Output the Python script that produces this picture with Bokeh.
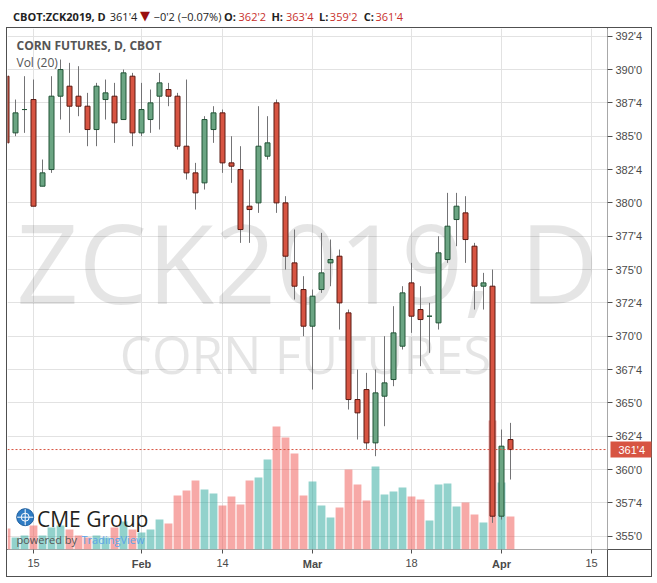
import numpy as np
import pandas as pd
from bokeh.plotting import figure
from bokeh.layouts import column
from bokeh.models import (Range1d, FixedTicker, CustomJSTickFormatter, Label, Span,
                          ColumnDataSource, LinearAxis)
from bokeh.core.properties import value
from bokeh.embed import file_html
from bokeh.resources import INLINE

# ---------------- data (CBOT:ZCK2019, daily) ----------------
SYMBOL = "CBOT:ZCK2019, D"
WATERMARK = "ZCK2019, D"
WATERMARK2 = "CORN FUTURES"
LEGEND = "CORN FUTURES, D, CBOT"
HOLIDAYS = ["2019-01-21", "2019-02-18"]
FIRST_DAY, LAST_DAY = "2019-01-10", "2019-04-02"

opens = [389.5, 385.25, 387.0, 387.75, 381.25, 382.5, 388.0, 388.75, 388.0, 387.25,
         385.5, 387.75, 388.0, 386.25, 389.5, 385.25, 386.25, 388.0, 388.5, 388.0,
         384.25, 382.25, 381.5, 385.5, 386.75, 383.0, 382.5, 379.75, 380.0, 383.5,
         387.5, 380.0, 375.5, 373.5, 370.75, 373.5, 375.5, 376.0, 371.75, 365.25,
         366.0, 362.0, 365.5, 366.75, 369.25, 374.0, 372.0, 371.5, 371.0, 375.75,
         378.75, 379.25, 376.75, 373.75, 373.75, 356.5, 362.25]
highs = [390.0, 387.75, 389.5, 389.25, 383.25, 389.5, 390.75, 390.5, 390.25, 388.25,
         389.0, 389.25, 389.0, 390.0, 389.75, 389.0, 388.5, 389.75, 389.0, 388.25,
         389.25, 383.0, 386.5, 387.25, 387.0, 385.0, 384.25, 381.75, 387.25, 386.5,
         387.75, 380.5, 378.0, 374.5, 373.5, 377.75, 377.25, 376.5, 372.0, 367.5,
         367.25, 367.5, 370.0, 372.25, 373.75, 375.5, 373.75, 372.5, 377.5, 380.75,
         380.75, 380.5, 377.0, 374.75, 375.0, 363.0, 363.5]
lows = [384.0, 385.0, 385.25, 379.75, 381.25, 382.25, 386.25, 385.25, 386.5, 384.25,
        384.25, 386.25, 384.5, 386.25, 384.25, 385.0, 385.25, 385.5, 387.25, 384.0,
        381.75, 379.5, 381.0, 384.5, 382.25, 381.5, 377.0, 377.0, 379.25, 383.25,
        379.25, 375.0, 372.75, 370.0, 366.0, 373.25, 373.75, 370.5, 364.5, 362.25,
        361.5, 361.0, 363.25, 366.25, 369.0, 370.25, 367.75, 368.75, 370.5, 375.5,
        376.75, 375.5, 372.0, 372.0, 356.0, 356.25, 359.25]
closes = [384.5, 386.75, 387.0, 379.75, 382.25, 388.0, 390.0, 387.25, 387.25, 385.5,
          388.75, 388.25, 386.0, 389.75, 385.25, 387.0, 387.5, 389.0, 388.0, 384.25,
          382.25, 380.75, 386.25, 386.75, 383.0, 382.75, 378.0, 379.5, 384.25, 384.5,
          380.0, 376.0, 373.75, 370.75, 373.0, 374.75, 375.75, 372.5, 365.25, 364.25,
          362.0, 365.75, 366.5, 370.25, 373.25, 371.5, 371.25, 371.5, 376.25, 378.25,
          379.75, 377.25, 373.75, 374.0, 356.5, 361.75, 361.5]
# volume, thousands of contracts
volume_k = [42, 24, 28, 48, 28, 44, 48, 40, 28, 24,
            28, 24, 44, 56, 40, 34, 40, 60, 52, 108,
            118, 138, 120, 112, 88, 106, 90, 138, 144, 180,
            246, 224, 192, 108, 136, 88, 64, 84, 160, 130,
            98, 166, 110, 116, 124, 106, 100, 58, 130, 132,
            86, 94, 70, 54, 258, 134, 66]

price_ticks = [355.0, 357.5, 360.0, 362.5, 365.0, 367.5, 370.0, 372.5,
               375.0, 377.5, 380.0, 382.5, 385.0, 387.5, 390.0, 392.5]
price_tick_labels = ["355'0", "357'4", "360'0", "362'4", "365'0", "367'4", "370'0", "372'4",
                     "375'0", "377'4", "380'0", "382'4", "385'0", "387'4", "390'0", "392'4"]
date_ticks = ["2019-01-15", "2019-02-01", "2019-02-14", "2019-03-01",
              "2019-03-18", "2019-04-01", "2019-04-15"]
date_tick_labels = ["15", "Feb", "14", "Mar", "18", "Apr", "15"]

# ---------------- derived ----------------
dates = pd.bdate_range(FIRST_DAY, LAST_DAY, freq="C", holidays=HOLIDAYS)
n = len(dates)
xs = list(range(n))
tick_pos = [int(v) for v in np.busday_count(FIRST_DAY, date_ticks, holidays=HOLIDAYS)]
day_texts = [t if t.isdigit() else "" for t in date_tick_labels]
month_pos = [x for x, t in zip(tick_pos, date_tick_labels) if not t.isdigit()]
month_texts = [t for t in date_tick_labels if not t.isdigit()]


def eighths(p):
    w = int(np.floor(p + 1e-9))
    f = int(round((p - w) * 8))
    return f"{w}'{f}"


# ---------------- geometry (page pixels) ----------------
W, H, HEAD = 657, 583, 27
FL, FT, FR, FB = 7, 28, 607, 549      # plot frame edges
BAR_PX = 9.0                          # pixels per trading day
BAR0_PX = 6.0                         # centre of first bar
REF_PRICE, REF_PX, PX_PER_CENT = 392.5, 35.7, 40.0 / 3.0
BASE = 0.36                           # alphabetic baseline correction (em)

x0 = (FL - BAR0_PX) / BAR_PX
x1 = (FR - BAR0_PX) / BAR_PX
ytop = REF_PRICE + (REF_PX - FT) / PX_PER_CENT
ybot = REF_PRICE - (FB - REF_PX) / PX_PER_CENT


def X(px):
    return x0 + (px - FL) / BAR_PX


def Y(py):
    return ytop - (py - FT) / PX_PER_CENT


UP, DOWN = "#6ba583", "#d75442"
UP_EDGE, DOWN_EDGE = "#225437", "#5b1a13"
up = [c >= o for o, c in zip(opens, closes)]
src = ColumnDataSource(dict(
    x=xs, o=opens, h=highs, l=lows, c=closes, v=volume_k,
    top=[max(o, c) for o, c in zip(opens, closes)],
    bottom=[min(o, c) for o, c in zip(opens, closes)],
    body=[UP if u else DOWN for u in up],
    edge=[UP_EDGE if u else DOWN_EDGE for u in up],
    vcol=["#26a69a" if u else "#ef5350" for u in up],
))

# ---------------- header strip ----------------
hp = figure(width=W, height=HEAD, x_range=Range1d(0, W), y_range=Range1d(HEAD, 0),
            x_axis_location=None, y_axis_location=None, output_backend="svg",
            toolbar_location=None, min_border=0, min_border_left=0, min_border_right=0,
            min_border_top=0, min_border_bottom=0, outline_line_color=None,
            background_fill_color="#ffffff", border_fill_color="#ffffff")
hp.grid.visible = False


def hlab(px, text, color="#222222", bold=False, font="Open Sans", size=11):
    hp.add_layout(Label(x=px, y=19.8 - BASE * size, text=text, text_font=font,
                        text_font_size=f"{size}px", text_color=color,
                        text_font_style="bold" if bold else "normal",
                        text_align="left", text_baseline="alphabetic"))


last = closes[-1]
chg = closes[-1] - closes[-2]
pct = chg / closes[-2] * 100
sign = "\u2212" if chg < 0 else "+"
RED = "#c8302c"
hlab(6, SYMBOL, bold=True)
hlab(112, eighths(last))
hlab(145, "\u25bc" if chg < 0 else "\u25b2", color="#990f0f", font="DejaVu Sans", size=13)
hlab(160, f"{sign}{eighths(abs(chg))} ({sign}{abs(pct):.2f}%)")
for (kx, vx, k, v) in [(237, 253, "O:", opens[-1]), (289, 305, "H:", highs[-1]),
                       (341, 353, "L:", lows[-1]), (390, 403, "C:", closes[-1])]:
    hlab(kx, k, bold=True)
    hlab(vx, eighths(v), color=RED)

# ---------------- main chart ----------------
PH = H - HEAD
p = figure(width=W, height=PH, x_range=Range1d(x0, x1), y_range=Range1d(ybot, ytop),
           y_axis_location="right", output_backend="svg", toolbar_location=None,
           min_border_left=FL, min_border_right=W - FR, min_border_top=FT - HEAD,
           min_border_bottom=H - FB, background_fill_color="#ffffff",
           border_fill_color=None, outline_line_color=None)
p.extra_y_ranges = {"vol": Range1d(0, (FB - FT) * 2)}

LINE = "#505050"


def seg(x, y, w, h):
    return f"linear-gradient({LINE},{LINE}) {x}px {y - HEAD}px / {w}px {h}px no-repeat"


p.styles = {"background": ", ".join([
    seg(6, 27, 646, 1), seg(6, 576, 646, 1), seg(6, 27, 1, 550), seg(651, 27, 1, 550),
    seg(FR, 27, 1, 550), seg(6, FB, 646, 1)]) + ", #ffffff"}

# watermark
for txt, cx, by, size in [(WATERMARK, 307, 300, 109), (WATERMARK2, 305, 372, 51)]:
    p.text(x=[X(cx)], y=[Y(by - BASE * size)], text=[txt], text_font=value("Open Sans"),
           text_font_size=f"{size}px", text_color="#000000", text_alpha=0.1,
           text_align="center", text_baseline="alphabetic")

# volume
p.vbar(x="x", top="v", bottom=0, width=0.87, y_range_name="vol", source=src,
       fill_color="vcol", fill_alpha=0.5, line_color=None)

# candles
p.segment(x0="x", y0="l", x1="x", y1="h", source=src, line_color="#737375", line_width=1)
p.vbar(x="x", width=5.0 / 9.0, top="top", bottom="bottom", source=src,
       fill_color="body", line_color="edge", line_width=1)

# axes
JS = "const i = vals.indexOf(tick); return i < 0 ? '' : texts[i];"
xt = FixedTicker(ticks=tick_pos)
yt = FixedTicker(ticks=price_ticks)
p.xaxis.ticker = xt
p.xgrid.ticker = xt
p.yaxis.ticker = yt
p.ygrid.ticker = yt
p.xaxis.formatter = CustomJSTickFormatter(args=dict(vals=tick_pos, texts=day_texts), code=JS)
p.yaxis.formatter = CustomJSTickFormatter(args=dict(vals=price_ticks, texts=price_tick_labels), code=JS)
for ax in (p.xaxis[0], p.yaxis[0]):
    ax.axis_line_color = None
    ax.major_tick_line_color = LINE
    ax.minor_tick_line_color = None
    ax.major_tick_in = 0
    ax.major_label_text_font = "Liberation Sans"
    ax.major_label_text_font_size = "11px"
    ax.major_label_text_color = "#4a4a4a"
p.yaxis.major_tick_out = 5
p.yaxis.major_label_standoff = 3
p.xaxis.major_tick_out = 4
p.xaxis.major_label_standoff = 5
p.xgrid.grid_line_color = "#e2e2e2"
p.ygrid.grid_line_color = "#e2e2e2"

# month names in bold: a second, label-only date axis pulled up onto the first one
months = LinearAxis(ticker=FixedTicker(ticks=month_pos),
                    formatter=CustomJSTickFormatter(args=dict(vals=month_pos, texts=month_texts), code=JS),
                    axis_line_color=None, major_tick_line_color=None, minor_tick_line_color=None,
                    major_tick_in=0, major_tick_out=0, major_label_standoff=-12,
                    major_label_text_font="Liberation Sans", major_label_text_font_size="11px",
                    major_label_text_font_style="bold", major_label_text_color="#4a4a4a")
p.add_layout(months, "below")

# last price: dotted line + red price tag (a one-tick axis whose wide tick is the tag)
p.add_layout(Span(location=last, dimension="width", line_color=DOWN,
                  line_dash="2 2", line_width=1))
tag = LinearAxis(ticker=FixedTicker(ticks=[last]),
                 formatter=CustomJSTickFormatter(args=dict(vals=[last], texts=[eighths(last)]), code=JS),
                 axis_line_color=None, minor_tick_line_color=None,
                 major_tick_in=35, major_tick_out=6, major_tick_line_width=16,
                 major_tick_line_color=DOWN, major_label_standoff=-33,
                 major_label_text_color="#ffffff", major_label_text_font="Liberation Sans",
                 major_label_text_font_size="11px")
p.add_layout(tag, "right")


def lab(px, py, text, size=12, color="#222222", bold=False, font="Open Sans"):
    p.add_layout(Label(x=X(px), y=Y(py - BASE * size), text=text, text_font=font,
                       text_font_size=f"{size}px", text_color=color,
                       text_font_style="bold" if bold else "normal",
                       text_align="left", text_baseline="alphabetic"))


# legend
lab(16, 49.3, LEGEND, bold=True, color="#555555")
lab(16, 66.3, "Vol (20)", color="#555555")

# CME logo
p.scatter(x=[X(24.7)], y=[Y(516.7)], size=17, marker="circle", fill_color="#2f7cc4",
          line_color="#1f5f9e")
p.scatter(x=[X(24.7)], y=[Y(516.7)], size=16, marker="cross", line_color="#ffffff",
          line_width=1)
p.scatter(x=[X(24.7)], y=[Y(516.7)], size=8, marker="circle", fill_color=None,
          line_color="#ffffff", line_width=1)
lab(36.5, 526, "CME Group", size=21, color="#231f20")
lab(16, 542.7, "powered by", size=11, color="#555555")
lab(81, 542.7, "TradingView", size=11, color="#5ba4e8")

layout = column(hp, p, spacing=0)
open("out.html", "w").write(file_html(layout, INLINE))
